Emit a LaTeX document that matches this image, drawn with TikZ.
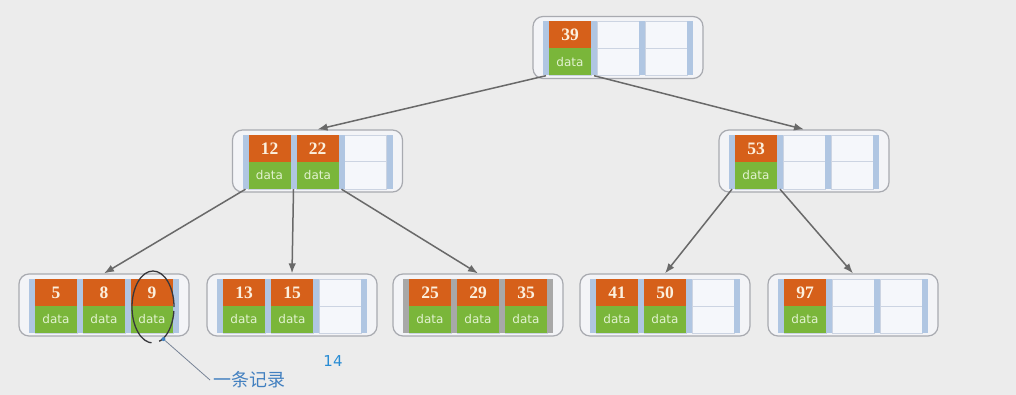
\documentclass[tikz,border=0pt]{standalone}
\usepackage{fontspec}
\usetikzlibrary{calc, arrows.meta, shapes.geometric}

\newfontfamily\numfont{Liberation Serif}
\newfontfamily\datafont{DejaVu Sans}
\newfontfamily\cjk{Noto Sans CJK SC}

\definecolor{bgcol}{RGB}{236,236,236}
\definecolor{boxfill}{RGB}{243,244,247}
\definecolor{boxline}{RGB}{168,170,176}
\definecolor{keyorange}{RGB}{214,96,26}
\definecolor{keytext}{RGB}{252,240,222}
\definecolor{datagreen}{RGB}{122,182,58}
\definecolor{datatext}{RGB}{226,242,208}
\definecolor{barblue}{RGB}{176,198,226}
\definecolor{bargray}{RGB}{168,168,168}
\definecolor{cellfill}{RGB}{245,247,251}
\definecolor{cellline}{RGB}{204,212,226}
\definecolor{linkgray}{RGB}{105,105,105}
\definecolor{ringcol}{RGB}{55,55,60}
\definecolor{notecol}{RGB}{66,128,192}
\definecolor{leadcol}{RGB}{120,132,150}
\definecolor{pagecol}{RGB}{40,140,212}

% one B-tree node: [bar colour]{name}{position}{keys}
\newcommand{\btnode}[4][barblue]{%
  \node[outerbox] (#2) at #3 {};
  \foreach \i in {1,2,3} {
    \node[emptycell] (#2-e\i) at ($(#2)+(-96+48*\i,1)$) {};
    \draw[midline] (#2-e\i.west) -- (#2-e\i.east);
  }
  \foreach \i in {0,...,3}
    \node[bar, fill=#1] (#2-b\i) at ($(#2)+(-72+48*\i,1)$) {};
  \foreach \k [count=\i] in {#4} {
    \node[keycell] (#2-k\i) at ($(#2)+(-96+48*\i,-12.5)$) {\k};
    \node[datacell] (#2-d\i) at ($(#2)+(-96+48*\i,14.5)$) {data};
  }
}

\begin{document}
\begin{tikzpicture}[
  x=1pt, y=-1pt,
  outerbox/.style={rectangle, draw=boxline, fill=boxfill, line width=1.2pt, rounded corners=10pt, minimum width=170pt, minimum height=62pt, inner sep=0},
  emptycell/.style={rectangle, draw=cellline, fill=cellfill, line width=0.6pt, minimum width=42pt, minimum height=54pt, inner sep=0},
  midline/.style={draw=cellline, line width=1pt},
  bar/.style={rectangle, minimum width=6pt, minimum height=54pt, inner sep=0},
  keycell/.style={rectangle, fill=keyorange, minimum width=42pt, minimum height=27pt, inner sep=0, text=keytext, font=\numfont\bfseries\fontsize{17.5}{20}\selectfont},
  datacell/.style={rectangle, fill=datagreen, minimum width=42pt, minimum height=27pt, inner sep=0, text=datatext, font=\datafont\fontsize{12}{14}\selectfont},
  link/.style={draw=linkgray, line width=1.5pt, -{Latex[length=10pt, width=7.5pt]}},
  recring/.style={ellipse, draw=ringcol, line width=1.3pt, dash pattern=on 135pt off 8pt on 35pt off 7pt, minimum width=42pt, minimum height=72pt, inner sep=0},
  dotmark/.style={circle, fill=notecol, minimum size=4pt, inner sep=0},
  notetext/.style={text=notecol, font=\cjk\fontsize{18}{20}\selectfont},
  pagetext/.style={text=pagecol, font=\datafont\fontsize{15}{17}\selectfont}
]

\fill[bgcol] (0,0) rectangle (1016,395);
\useasboundingbox (0,0) rectangle (1016,395);

%--------------------------------------
% Root
%--------------------------------------
\btnode{root}{(618,47.5)}{39}

%--------------------------------------
% Second level
%--------------------------------------
\btnode{n12}{(317.5,161)}{12,22}
\btnode{n53}{(804,161)}{53}

%--------------------------------------
% Leaves
%--------------------------------------
\btnode{l5}{(104,305)}{5,8,9}
\btnode{l13}{(292,305)}{13,15}
\btnode[bargray]{l25}{(478,305)}{25,29,35}
\btnode{l41}{(665,305)}{41,50}
\btnode{l97}{(853,305)}{97}

%--------------------------------------
% Pointers
%--------------------------------------
\draw[link] (root-b0.south) -- (n12.north);
\draw[link] (root-b1.south) -- (n53.north);

\draw[link] (n12-b0.south) -- (l5.north);
\draw[link] (n12-b1.south) -- (l13.north);
\draw[link] (n12-b2.south) -- (l25.north);

\draw[link] (n53-b0.south) -- (l41.north);
\draw[link] (n53-b1.south) -- (l97.north);

%--------------------------------------
% Note on one record
%--------------------------------------
\node[recring] (rec) at (153,307) {};
\node[dotmark] (recdot) at (rec.-72) {};
\node[notetext, anchor=west] (reclabel) at (210,380) {一条记录};
\draw[leadcol, line width=0.8pt] (recdot) -- (reclabel.west);

\node[pagetext] (pagenum) at (333,361) {14};

\end{tikzpicture}
\end{document}
